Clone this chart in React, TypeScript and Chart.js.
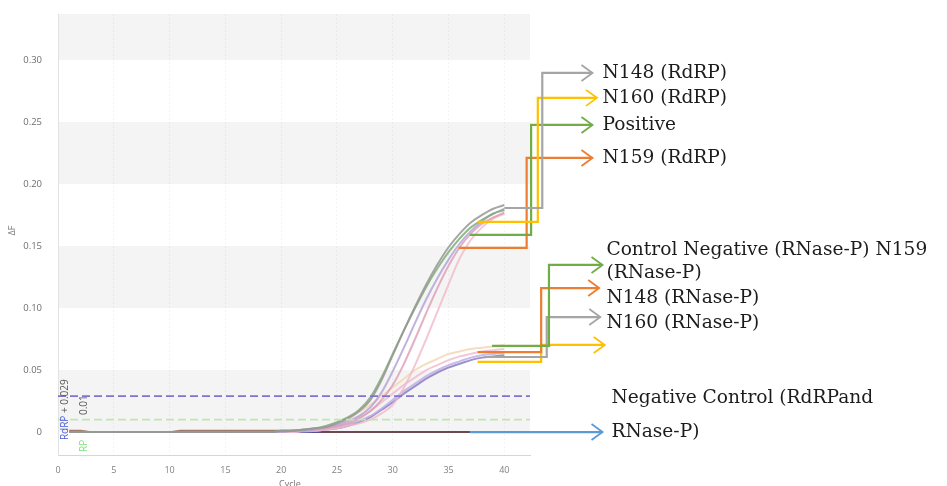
import React, { useEffect, useRef } from "react";
import { Chart, registerables } from "chart.js";

Chart.register(...registerables);

// ---------- data ----------
const cycles = [1, 2, 3, 4, 5, 6, 7, 8, 9, 10, 11, 12, 13, 14, 15, 16, 17, 18, 19, 20, 21, 22, 23, 24, 25, 26, 27, 28, 29, 30, 31, 32, 33, 34, 35, 36, 37, 38, 39, 40];

const rdrpN148 = [0, 0, 0, 0, 0, 0, 0, 0, 0, 0, 0, 0, 0, 0, 0, 0, 0, 0, 0, 0.001, 0.001, 0.002, 0.003, 0.004, 0.007, 0.011, 0.017, 0.026, 0.042, 0.062, 0.082, 0.101, 0.119, 0.135, 0.149, 0.16, 0.169, 0.175, 0.18, 0.183];
const positive = [0, 0, 0, 0, 0, 0, 0, 0, 0, 0, 0, 0, 0, 0, 0, 0, 0, 0, 0, 0.001, 0.001, 0.002, 0.003, 0.005, 0.008, 0.012, 0.018, 0.028, 0.044, 0.063, 0.082, 0.1, 0.117, 0.132, 0.145, 0.156, 0.165, 0.171, 0.176, 0.179];
const rdrpN160 = [0, 0, 0, 0, 0, 0, 0, 0, 0, 0, 0, 0, 0, 0, 0, 0, 0, 0, 0, 0, 0.001, 0.001, 0.002, 0.004, 0.006, 0.009, 0.013, 0.02, 0.032, 0.049, 0.068, 0.088, 0.107, 0.124, 0.139, 0.152, 0.162, 0.17, 0.176, 0.18];
const rdrpRose = [0, 0, 0, 0, 0, 0, 0, 0, 0, 0, 0, 0, 0, 0, 0, 0, 0, 0, 0, 0, 0.001, 0.001, 0.002, 0.003, 0.005, 0.007, 0.011, 0.017, 0.026, 0.038, 0.055, 0.075, 0.096, 0.116, 0.134, 0.149, 0.16, 0.168, 0.173, 0.177];
const rdrpN159 = [0, 0, 0, 0, 0, 0, 0, 0, 0, 0, 0, 0, 0, 0, 0, 0, 0, 0, 0, 0, 0, 0.001, 0.001, 0.002, 0.003, 0.005, 0.007, 0.01, 0.015, 0.022, 0.036, 0.054, 0.075, 0.097, 0.119, 0.14, 0.155, 0.165, 0.172, 0.176];

const rnaseN159 = [0, 0, 0, 0, 0, 0, 0, 0, 0, 0, 0, 0, 0, 0, 0, 0, 0, 0, 0, 0, 0.001, 0.001, 0.002, 0.004, 0.007, 0.011, 0.016, 0.022, 0.029, 0.036, 0.043, 0.05, 0.055, 0.059, 0.063, 0.065, 0.067, 0.068, 0.069, 0.07];
const rnaseN148 = [0, 0, 0, 0, 0, 0, 0, 0, 0, 0, 0, 0, 0, 0, 0, 0, 0, 0, 0, 0, 0, 0.001, 0.002, 0.003, 0.005, 0.008, 0.012, 0.017, 0.024, 0.031, 0.038, 0.044, 0.05, 0.054, 0.058, 0.061, 0.063, 0.065, 0.066, 0.067];
const rnaseN160 = [0, 0, 0, 0, 0, 0, 0, 0, 0, 0, 0, 0, 0, 0, 0, 0, 0, 0, 0, 0, 0, 0.001, 0.001, 0.002, 0.004, 0.006, 0.009, 0.013, 0.019, 0.026, 0.033, 0.039, 0.045, 0.05, 0.054, 0.057, 0.06, 0.062, 0.063, 0.064];
const rnasePos = [0, 0, 0, 0, 0, 0, 0, 0, 0, 0, 0, 0, 0, 0, 0, 0, 0, 0, 0, 0, 0, 0, 0.001, 0.002, 0.003, 0.005, 0.008, 0.012, 0.018, 0.024, 0.031, 0.037, 0.043, 0.048, 0.052, 0.055, 0.058, 0.06, 0.061, 0.062];

const negativeRdrp = [0, 0, 0, 0, 0, 0, 0, 0, 0, 0, 0, 0, 0, 0, 0, 0, 0, 0, 0, 0, 0, 0, 0, 0, 0, 0, 0, 0, 0, 0, 0, 0, 0, 0, 0, 0, 0, 0, 0, 0];
const negativeRnase = [0.001, 0.001, 0, 0, 0, 0, 0, 0, 0, 0, 0.001, 0.001, 0.001, 0.001, 0.001, 0.001, 0.001, 0.001, 0.001, 0.001, 0.001, 0.001, 0.001, 0, 0, 0, 0, 0, 0, 0, 0, 0, 0, 0, 0, 0, 0, 0, 0, 0];

const thresholdRdRP = 0.029;
const thresholdRNaseP = 0.01;
const thresholdSpan = [0, 42.3];

const yTickValues = [0, 0.05, 0.1, 0.15, 0.2, 0.25, 0.3];
const bandStarts = [0.3, 0.2, 0.1, 0.0];

// annotation connectors: polyline points in data units (cycle, ΔF), arrow at the end
const connectorGray = "#a5a5a5";
const connectorYellow = "#ffc000";
const connectorGreen = "#70ad47";
const connectorOrange = "#ed7d31";
const connectorBlue = "#5b9bd5";

const connectors = [
  { color: connectorOrange, points: [[35.9, 0.1484], [42.0, 0.1484], [42.0, 0.221], [47.9, 0.221]] },
  { color: connectorGreen, points: [[36.9, 0.1589], [42.4, 0.1589], [42.4, 0.2476], [47.9, 0.2476]] },
  { color: connectorYellow, points: [[37.6, 0.1694], [43.0, 0.1694], [43.0, 0.2694], [48.3, 0.2694]] },
  { color: connectorGray, points: [[40.0, 0.1806], [43.4, 0.1806], [43.4, 0.2895], [47.9, 0.2895]] },
  { color: connectorYellow, points: [[37.6, 0.0565], [43.3, 0.0565], [43.3, 0.0702], [49.0, 0.0702]] },
  { color: connectorGray, points: [[38.2, 0.0605], [43.8, 0.0605], [43.8, 0.0927], [48.6, 0.0927]] },
  { color: connectorOrange, points: [[37.6, 0.0645], [43.3, 0.0645], [43.3, 0.1161], [48.5, 0.1161]] },
  { color: connectorGreen, points: [[38.9, 0.0694], [44.0, 0.0694], [44.0, 0.1347], [48.8, 0.1347]] },
  { color: connectorBlue, points: [[36.9, 0.0], [48.8, 0.0]] },
];

const labelTexts = [
  "N148 (RdRP)",
  "N160 (RdRP)",
  "Positive",
  "N159 (RdRP)",
  "Control Negative (RNase-P) N159",
  "(RNase-P)",
  "N148 (RNase-P)",
  "N160 (RNase-P)",
  "Negative Control (RdRPand",
  "RNase-P)",
];
const labelX = [48.8, 48.8, 48.8, 48.8, 49.15, 49.15, 49.15, 49.15, 49.6, 49.6];
const labelY = [0.2895, 0.2694, 0.2476, 0.221, 0.1468, 0.1282, 0.1081, 0.0879, 0.0274, 0.0];

const series = [
  { name: "N148 (RdRP)", values: rdrpN148, color: "rgba(150,150,150,0.85)" },
  { name: "Positive (RdRP)", values: positive, color: "rgba(120,170,110,0.8)" },
  { name: "N160 (RdRP)", values: rdrpN160, color: "rgba(180,165,215,0.85)" },
  { name: "RdRP rose", values: rdrpRose, color: "rgba(220,150,175,0.75)" },
  { name: "N159 (RdRP)", values: rdrpN159, color: "rgba(240,185,200,0.8)" },
  { name: "N159 (RNase-P)", values: rnaseN159, color: "rgba(245,215,180,0.85)" },
  { name: "N148 (RNase-P)", values: rnaseN148, color: "rgba(240,185,205,0.8)" },
  { name: "N160 (RNase-P)", values: rnaseN160, color: "rgba(190,175,225,0.85)" },
  { name: "Positive (RNase-P)", values: rnasePos, color: "rgba(140,125,195,0.85)" },
  { name: "Negative (RNase-P)", values: negativeRnase, color: "rgba(120,70,50,0.7)" },
  { name: "Negative (RdRP)", values: negativeRdrp, color: "rgba(50,50,130,0.85)" },
];

const bandsPlugin = {
  id: "bands",
  beforeDraw(chart: any) {
    const { ctx, chartArea: a, scales } = chart;
    const y = scales.y;
    ctx.save();
    ctx.fillStyle = "#ffffff";
    ctx.fillRect(0, 0, chart.width, chart.height);
    ctx.fillStyle = "#f4f4f4";
    bandStarts.forEach((b) => {
      const top = y.getPixelForValue(Math.min(b + 0.05, y.max));
      const bot = y.getPixelForValue(Math.max(b, y.min));
      ctx.fillRect(a.left, top, a.right - a.left, bot - top);
    });
    ctx.restore();
  },
};

const annotationPlugin = {
  id: "annot",
  afterDraw(chart: any) {
    const { ctx, scales, chartArea: a } = chart;
    const px = (v: number) => scales.x.getPixelForValue(v);
    const py = (v: number) => scales.y.getPixelForValue(v);
    ctx.save();
    ctx.lineJoin = "miter";
    ctx.lineCap = "butt";
    connectors.forEach((c) => {
      ctx.strokeStyle = c.color;
      ctx.lineWidth = 2.2;
      ctx.beginPath();
      c.points.forEach(([cx, cy], i) => {
        const X = px(cx);
        const Y = py(cy);
        if (i === 0) ctx.moveTo(X, Y);
        else ctx.lineTo(X, Y);
      });
      ctx.stroke();
      const last = c.points[c.points.length - 1];
      const X = px(last[0]);
      const Y = py(last[1]);
      ctx.lineWidth = 1.8;
      ctx.beginPath();
      ctx.moveTo(X - 11, Y - 8);
      ctx.lineTo(X, Y);
      ctx.lineTo(X - 11, Y + 8);
      ctx.stroke();
    });

    ctx.fillStyle = "#1c1c1c";
    ctx.font = '18.6px "DejaVu Serif"';
    ctx.textBaseline = "middle";
    ctx.textAlign = "left";
    labelTexts.forEach((t, i) => {
      ctx.fillText(t, px(labelX[i]), py(labelY[i]), 947 - px(labelX[i]) - 2);
    });

    // rotated threshold labels near the y axis
    ctx.font = '10px "Open Sans"';
    ctx.textBaseline = "middle";
    ctx.save();
    ctx.translate(px(0.63), py(-0.0065));
    ctx.rotate(-Math.PI / 2);
    ctx.fillStyle = "#4b5bd6";
    ctx.fillText("RdRP", 0, 0);
    const w1 = ctx.measureText("RdRP ").width;
    ctx.fillStyle = "#5a5a5a";
    ctx.fillText("+ 0.029", w1, 0);
    ctx.restore();

    ctx.save();
    ctx.translate(px(2.33), py(-0.016));
    ctx.rotate(-Math.PI / 2);
    ctx.fillStyle = "#7fe07a";
    ctx.fillText("RP", 0, 0);
    ctx.restore();
    ctx.save();
    ctx.translate(px(2.33), py(0.0137));
    ctx.rotate(-Math.PI / 2);
    ctx.fillStyle = "#5a5a5a";
    ctx.fillText("0.01", 0, 0);
    ctx.restore();

    // axis titles
    ctx.fillStyle = "#777";
    ctx.font = '9px "Open Sans"';
    ctx.textAlign = "center";
    ctx.save();
    ctx.translate(12, (a.top + a.bottom) / 2 - 4);
    ctx.rotate(-Math.PI / 2);
    ctx.fillText("ΔF", 0, 0);
    ctx.restore();
    ctx.textBaseline = "top";
    ctx.fillText("Cycle", (a.left + a.right) / 2 - 4, 480);
    ctx.restore();
  },
};

export default function App() {
  const ref = useRef<HTMLCanvasElement | null>(null);

  useEffect(() => {
    if (!ref.current) return;
    const datasets: any[] = [
      {
        label: "Threshold RdRP",
        data: thresholdSpan.map((x) => ({ x, y: thresholdRdRP })),
        borderColor: "#7e74cc",
        borderWidth: 1.6,
        borderDash: [8, 4],
        pointRadius: 0,
        tension: 0,
      },
      {
        label: "Threshold RNase-P",
        data: thresholdSpan.map((x) => ({ x, y: thresholdRNaseP })),
        borderColor: "#bfe6ae",
        borderWidth: 1.6,
        borderDash: [8, 4],
        pointRadius: 0,
        tension: 0,
      },
      ...series.map((s) => ({
        label: s.name,
        data: cycles.map((c, i) => ({ x: c, y: s.values[i] })),
        borderColor: s.color,
        borderWidth: 2,
        pointRadius: 0,
        cubicInterpolationMode: "monotone",
        fill: false,
      })),
    ];

    const chart = new Chart(ref.current, {
      type: "line",
      data: { datasets },
      options: {
        responsive: false,
        animation: false,
        devicePixelRatio: 1,
        layout: { padding: { left: 0, right: 417, top: 14, bottom: 0 } },
        plugins: { legend: { display: false }, tooltip: { enabled: false } },
        scales: {
          x: {
            type: "linear",
            min: 0,
            max: 42.3,
            afterFit: (s: any) => {
              s.height = 31;
            },
            ticks: {
              stepSize: 5,
              includeBounds: false,
              padding: 10,
              maxRotation: 0,
              color: "#808080",
              font: { size: 9, family: "Open Sans" },
            },
            grid: { color: "rgba(0,0,0,0.045)", drawTicks: false },
            border: { display: true, color: "#d6d6d6", dash: [2, 2] },
          },
          y: {
            type: "linear",
            min: -0.0185,
            max: 0.337,
            afterFit: (s: any) => {
              s.width = 58;
            },
            afterBuildTicks: (s: any) => {
              s.ticks = yTickValues.map((v) => ({ value: v }));
            },
            ticks: {
              padding: 8,
              color: "#6e6e6e",
              font: { size: 9.5, family: "Open Sans" },
              callback: (v: any) => (Number(v) === 0 ? "0" : Number(v).toFixed(2)),
            },
            grid: { display: false },
            border: { display: true, color: "#e2e2e2" },
          },
        },
      } as any,
      plugins: [bandsPlugin, annotationPlugin],
    });
    return () => chart.destroy();
  }, []);

  return (
    <div style={{ position: "fixed", left: 0, top: 0, width: 947, height: 486, background: "#fff" }}>
      <canvas ref={ref} width={947} height={486} style={{ display: "block" }} />
    </div>
  );
}
